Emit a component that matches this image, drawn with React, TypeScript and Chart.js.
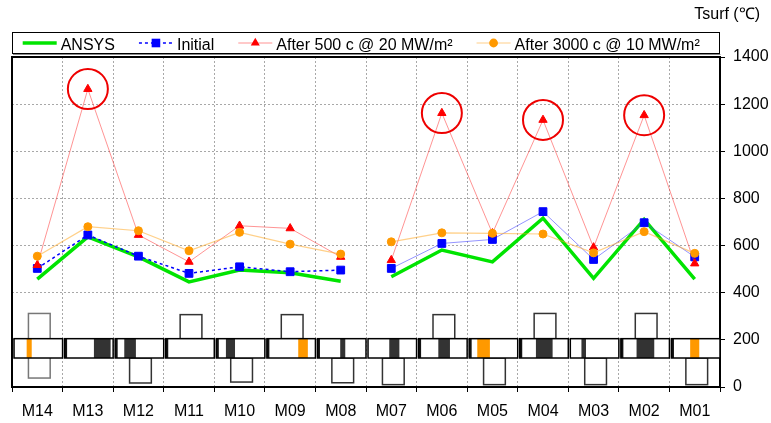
import React, { useEffect, useRef } from 'react';
import { Chart, registerables } from 'chart.js';

Chart.register(...registerables);

const FONT = "'Liberation Sans', Arial, sans-serif";

// ---------- data ----------
const categories = ['M14', 'M13', 'M12', 'M11', 'M10', 'M09', 'M08', 'M07', 'M06', 'M05', 'M04', 'M03', 'M02', 'M01'];
const ansys = [458, 637, 552, 446, 496, 485, 449, 468, 581, 531, 716, 461, 711, 458];
const initial = [503, 645, 555, 482, 510, 489, 496, 503, 609, 626, 744, 541, 697, 552];
const after500 = [517, 1264, 645, 531, 684, 673, 552, 538, 1162, 652, 1133, 592, 1153, 524];
const after3000 = [555, 680, 663, 578, 656, 606, 564, 616, 654, 652, 649, 569, 659, 567];
const circledIdx = [1, 8, 10, 12];
const lastOfFirstGroup = 6; // lines break between M08 and M07
const yMin = 0;
const yMax = 1400;
const yStep = 200;
const axisTitle = 'Tsurf (\u2103)';

// tile sketches (values on the temperature scale, damage zones in category units)
const bandTopValue = 205;
const bandBottomValue = 123;
const tileUpperTop = [312, null, null, 307, null, 307, null, null, 307, null, 312, null, 312, null];
const tileLowerBottom = [38, null, 17, null, 21, null, 18, 10, null, 10, null, 10, null, 10];
const tileDamageFrom = [-0.21, 0.12, -0.28, null, -0.27, 0.16, -0.01, -0.04, -0.07, -0.30, -0.14, -0.24, -0.15, -0.09];
const tileDamageTo = [-0.11, 0.45, -0.05, null, -0.09, 0.35, 0.09, 0.16, 0.16, -0.05, 0.19, -0.15, 0.20, 0.09];
const tileDamageKind = ['orange', 'dark', 'dark', null, 'dark', 'orange', 'dark', 'dark', 'dark', 'orange', 'dark', 'dark', 'dark', 'orange'];
const tileEdgeMark = [false, true, true, true, true, true, true, false, true, true, true, false, true, true];

// ---------- styles ----------
const GREEN = '#00e400';
const BLUE = '#0000ff';
const BLUE_LIGHT = 'rgba(60,60,255,0.55)';
const RED = '#ff0000';
const RED_LIGHT = 'rgba(255,60,60,0.55)';
const ORANGE = '#ff9900';
const ORANGE_LIGHT = 'rgba(255,170,40,0.55)';
const DARK = '#333333';

const breakColor = (color: string) => (ctx: any) =>
  ctx.p0DataIndex === lastOfFirstGroup ? 'rgba(0,0,0,0)' : color;

const tilesPlugin = {
  id: 'tiles',
  beforeDatasetsDraw(chart: any) {
    const { ctx } = chart;
    const x = chart.scales.x;
    const y = chart.scales.y;
    const unit = x.getPixelForValue(1) - x.getPixelForValue(0);
    const yT = y.getPixelForValue(bandTopValue);
    const yB = y.getPixelForValue(bandBottomValue);
    ctx.save();
    categories.forEach((_, i) => {
      const cx = x.getPixelForValue(i);
      const boxL = cx + (0.04 - 0.215) * unit;
      const boxW = 0.43 * unit;
      ctx.lineWidth = 1.5;
      ctx.strokeStyle = DARK;
      ctx.fillStyle = '#ffffff';
      const up = tileUpperTop[i];
      const low = tileLowerBottom[i];
      if (up != null && low != null) {
        const t = y.getPixelForValue(up);
        const b = y.getPixelForValue(low);
        ctx.fillRect(boxL, t, boxW, b - t);
        ctx.strokeStyle = '#777';
        ctx.strokeRect(boxL, t, boxW, b - t);
        ctx.strokeStyle = DARK;
      } else if (up != null) {
        const t = y.getPixelForValue(up);
        ctx.fillRect(boxL, t, boxW, yT - t);
        ctx.strokeRect(boxL, t, boxW, yT - t);
      } else if (low != null) {
        const b = y.getPixelForValue(low);
        ctx.fillRect(boxL, yB, boxW, b - yB);
        ctx.strokeRect(boxL, yB, boxW, b - yB);
      }
      // band
      const bl = cx - 0.46 * unit;
      const br = cx + 0.5 * unit;
      ctx.fillStyle = '#ffffff';
      ctx.fillRect(bl, yT, br - bl, yB - yT);
      const f = tileDamageFrom[i];
      const t2 = tileDamageTo[i];
      if (f != null && t2 != null) {
        ctx.fillStyle = tileDamageKind[i] === 'orange' ? ORANGE : DARK;
        ctx.fillRect(cx + f * unit, yT, (t2 - f) * unit, yB - yT);
      }
      if (tileEdgeMark[i]) {
        ctx.fillStyle = '#111';
        ctx.fillRect(bl, yT, 2.5, yB - yT);
      }
      ctx.strokeStyle = '#000';
      ctx.lineWidth = 1.5;
      ctx.strokeRect(bl, yT, br - bl, yB - yT);
    });
    ctx.restore();
  },
};

function drawMarker(ctx: CanvasRenderingContext2D, kind: string, x: number, y: number, color: string) {
  ctx.fillStyle = color;
  ctx.beginPath();
  if (kind === 'rect') {
    ctx.rect(x - 4.3, y - 4.3, 8.6, 8.6);
  } else if (kind === 'triangle') {
    const r = 5.2;
    ctx.moveTo(x, y - r);
    ctx.lineTo(x + r * 0.866, y + r / 2);
    ctx.lineTo(x - r * 0.866, y + r / 2);
    ctx.closePath();
  } else if (kind === 'circle') {
    ctx.arc(x, y, 4.4, 0, Math.PI * 2);
  }
  ctx.fill();
}

const frameLegendPlugin = {
  id: 'frameLegend',
  afterDraw(chart: any) {
    const { ctx, chartArea } = chart;
    const { left, right, top, bottom } = chartArea;
    ctx.save();
    // top and left frame lines
    ctx.strokeStyle = '#000';
    ctx.lineWidth = 2;
    ctx.beginPath();
    ctx.moveTo(left, bottom + 1);
    ctx.lineTo(left, top);
    ctx.lineTo(right, top);
    ctx.stroke();

    // legend box
    const lt = top - 24.5;
    const lb = top - 3.5;
    ctx.fillStyle = '#fff';
    ctx.fillRect(left, lt, right - left, lb - lt);
    ctx.lineWidth = 1;
    ctx.strokeStyle = '#000';
    ctx.strokeRect(left + 0.5, lt, right - left - 1, lb - lt);
    ctx.strokeStyle = '#888';
    ctx.beginPath();
    ctx.moveTo(left + 1, lb + 1);
    ctx.lineTo(right + 0.5, lb + 1);
    ctx.stroke();

    ctx.font = `16px ${FONT}`;
    ctx.textBaseline = 'alphabetic';
    ctx.textAlign = 'left';
    const mid = top - 14;
    const base = top - 7;
    let x = left + 10.7;
    const items = [
      { label: chart.data.datasets[0].label, color: GREEN, width: 3.5, dash: [] as number[], marker: '', mcolor: '' },
      { label: chart.data.datasets[1].label, color: BLUE, width: 1.3, dash: [3, 3], marker: 'rect', mcolor: BLUE },
      { label: chart.data.datasets[2].label, color: RED_LIGHT, width: 1, dash: [], marker: 'triangle', mcolor: RED },
      { label: chart.data.datasets[3].label, color: ORANGE_LIGHT, width: 1.2, dash: [], marker: 'circle', mcolor: ORANGE },
    ];
    items.forEach((it) => {
      ctx.save();
      ctx.strokeStyle = it.color;
      ctx.lineWidth = it.width;
      ctx.setLineDash(it.dash);
      ctx.beginPath();
      ctx.moveTo(x, mid);
      ctx.lineTo(x + 34, mid);
      ctx.stroke();
      ctx.restore();
      if (it.marker) drawMarker(ctx, it.marker, x + 17, mid, it.mcolor);
      ctx.fillStyle = '#000';
      ctx.fillText(it.label, x + 38, base);
      x += 38 + ctx.measureText(it.label).width + 24;
    });

    // axis title
    ctx.textAlign = 'right';
    ctx.fillText(axisTitle, right + 40, 19);
    ctx.restore();
  },
};

export default function App() {
  const ref = useRef<HTMLCanvasElement | null>(null);

  useEffect(() => {
    if (!ref.current) return;
    Chart.defaults.font.family = FONT;
    Chart.defaults.font.size = 16;
    Chart.defaults.color = '#000';
    const circled = after500.map((v, i) => (circledIdx.includes(i) ? v : null));

    const chart = new Chart(ref.current, {
      type: 'line',
      data: {
        labels: categories,
        datasets: [
          {
            label: 'ANSYS',
            data: ansys,
            borderColor: GREEN,
            borderWidth: 3.5,
            pointRadius: 0,
            order: 4,
            segment: { borderColor: breakColor(GREEN) },
          },
          {
            label: 'Initial',
            data: initial,
            borderColor: BLUE,
            borderWidth: 1.5,
            pointStyle: 'rect',
            pointRadius: 5.5,
            pointBorderWidth: 1,
            pointBackgroundColor: BLUE,
            pointBorderColor: BLUE,
            order: 3,
            segment: {
              borderColor: (ctx: any) =>
                ctx.p0DataIndex === lastOfFirstGroup ? 'rgba(0,0,0,0)' : ctx.p0DataIndex < lastOfFirstGroup ? BLUE : BLUE_LIGHT,
              borderDash: (ctx: any) => (ctx.p0DataIndex < lastOfFirstGroup ? [3, 3] : []),
              borderWidth: (ctx: any) => (ctx.p0DataIndex < lastOfFirstGroup ? 1.5 : 1),
            },
          },
          {
            label: 'After 500 c @ 20 MW/m\u00b2',
            data: after500,
            borderColor: RED_LIGHT,
            borderWidth: 1,
            pointStyle: 'triangle',
            pointRadius: 4.8,
            pointBorderWidth: 1,
            pointBackgroundColor: RED,
            pointBorderColor: RED,
            order: 2,
            segment: { borderColor: breakColor(RED_LIGHT) },
          },
          {
            label: 'After 3000 c @ 10 MW/m\u00b2',
            data: after3000,
            borderColor: ORANGE_LIGHT,
            borderWidth: 1.2,
            pointStyle: 'circle',
            pointRadius: 4,
            pointBorderWidth: 1,
            pointBackgroundColor: ORANGE,
            pointBorderColor: ORANGE,
            order: 1,
            segment: { borderColor: breakColor(ORANGE_LIGHT) },
          },
          {
            label: 'highlight',
            data: circled,
            showLine: false,
            pointStyle: 'circle',
            pointRadius: 20,
            pointBorderWidth: 2,
            pointBorderColor: '#ee0000',
            pointBackgroundColor: 'rgba(0,0,0,0)',
            order: 0,
          },
        ],
      },
      options: {
        animation: false,
        responsive: false,
        devicePixelRatio: 1,
        events: [],
        layout: { autoPadding: false, padding: { top: 57, left: 12, right: 2, bottom: 2 } },
        plugins: {
          legend: { display: false },
          tooltip: { enabled: false },
          title: { display: false },
        },
        scales: {
          x: {
            type: 'category',
            offset: true,
            afterFit: (s: any) => {
              s.paddingLeft = 0;
              s.paddingRight = 0;
              s.height = 34;
            },
            grid: {
              offset: true,
              color: '#a8a8a8',
              lineWidth: 1,
              tickColor: '#000',
              tickLength: 5,
              tickWidth: 1,
            },
            border: { display: true, color: '#000', width: 2, dash: [2, 2] },
            ticks: { padding: 10, color: '#000', font: { size: 16, family: FONT } },
          },
          y: {
            type: 'linear',
            position: 'right',
            min: yMin,
            max: yMax,
            afterFit: (s: any) => {
              s.width = 49;
            },
            ticks: {
              stepSize: yStep,
              padding: 8,
              color: '#000',
              font: { size: 16, family: FONT },
              callback: (v: any) => String(v),
            },
            grid: {
              color: '#a8a8a8',
              lineWidth: 1,
              tickColor: '#000',
              tickLength: 5,
              tickWidth: 1,
            },
            border: { display: true, color: '#000', width: 2, dash: [2, 2] },
          },
        },
      },
      plugins: [tilesPlugin, frameLegendPlugin],
    } as any);

    return () => chart.destroy();
  }, []);

  return (
    <div style={{ position: 'absolute', left: 0, top: 0, width: 771, height: 423, background: '#fff' }}>
      <canvas ref={ref} width={771} height={423} style={{ display: 'block', width: 771, height: 423 }} />
    </div>
  );
}
